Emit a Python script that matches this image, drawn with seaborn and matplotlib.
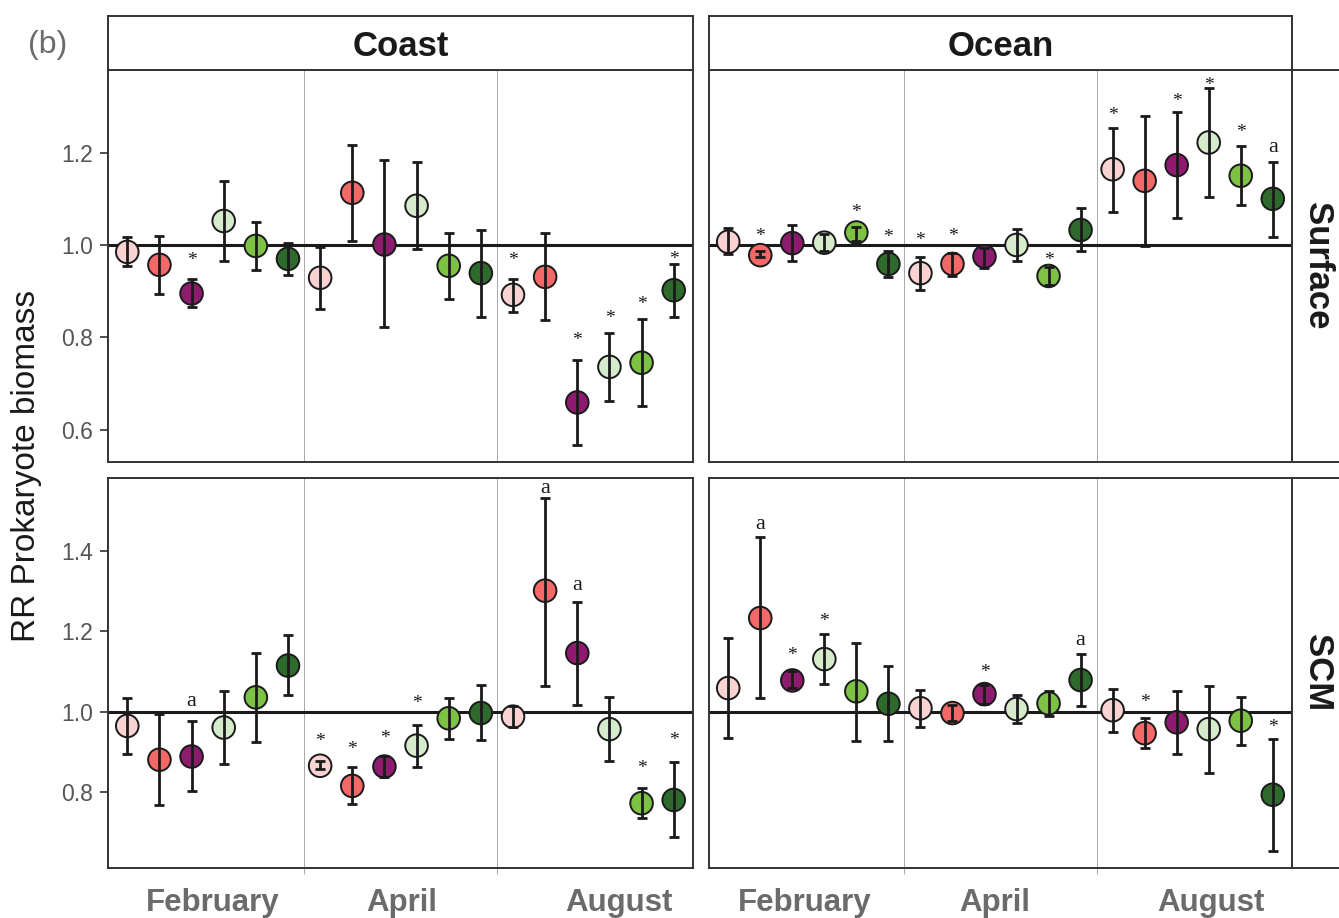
import numpy as np
import pandas as pd
import matplotlib
matplotlib.use("Agg")
import matplotlib.pyplot as plt
import seaborn as sns

# ---------------- data ----------------
months = ["February", "April", "August"]
treatments = ["T1", "T2", "T3", "T4", "T5", "T6"]
treatment_colors = ["#F9D2D2", "#F46868", "#8E1B6E", "#D6EACC", "#7DC243", "#2D6A2B"]
sites = ["Coast", "Ocean"]
depths = ["Surface", "SCM"]

coast_surface_mean = [0.985, 0.957, 0.895, 1.052, 0.998, 0.970,
                      0.929, 1.113, 1.001, 1.085, 0.955, 0.939,
                      0.892, 0.931, 0.659, 0.736, 0.745, 0.902]
coast_surface_lo = [0.954, 0.893, 0.866, 0.965, 0.945, 0.936,
                    0.861, 1.009, 0.822, 0.991, 0.884, 0.843,
                    0.854, 0.837, 0.567, 0.663, 0.651, 0.845]
coast_surface_hi = [1.017, 1.020, 0.926, 1.139, 1.050, 1.005,
                    0.995, 1.217, 1.183, 1.179, 1.027, 1.033,
                    0.926, 1.025, 0.751, 0.809, 0.840, 0.958]
coast_surface_sig = ["", "", "*", "", "", "",
                     "", "", "", "", "", "",
                     "*", "", "*", "*", "*", "*"]
coast_surface_sig_y = [np.nan, np.nan, 0.977, np.nan, np.nan, np.nan,
                       np.nan, np.nan, np.nan, np.nan, np.nan, np.nan,
                       0.977, np.nan, 0.803, 0.852, 0.882, 0.980]

ocean_surface_mean = [1.007, 0.978, 1.004, 1.005, 1.027, 0.959,
                      0.939, 0.959, 0.975, 1.000, 0.933, 1.0325,
                      1.164, 1.139, 1.173, 1.222, 1.150, 1.100]
ocean_surface_lo = [0.980, 0.975, 0.965, 0.987, 1.009, 0.931,
                    0.902, 0.933, 0.951, 0.965, 0.913, 0.986,
                    1.072, 0.998, 1.058, 1.103, 1.087, 1.018]
ocean_surface_hi = [1.036, 0.986, 1.043, 1.024, 1.040, 0.986,
                    0.973, 0.983, 0.993, 1.034, 0.952, 1.080,
                    1.254, 1.279, 1.289, 1.339, 1.2145, 1.180]
ocean_surface_sig = ["", "*", "", "", "*", "*",
                     "*", "*", "", "", "*", "",
                     "*", "", "*", "*", "*", "a"]
ocean_surface_sig_y = [np.nan, 1.028, np.nan, np.nan, 1.080, 1.027,
                       1.020, 1.030, np.nan, np.nan, 0.978, np.nan,
                       1.290, np.nan, 1.321, 1.357, 1.254, 1.217]

coast_scm_mean = [0.965, 0.881, 0.889, 0.961, 1.036, 1.115,
                  0.866, 0.816, 0.864, 0.916, 0.984, 0.997,
                  0.988, 1.301, 1.146, 0.957, 0.773, 0.781]
coast_scm_lo = [0.895, 0.769, 0.804, 0.871, 0.926, 1.042,
                0.858, 0.771, 0.838, 0.864, 0.933, 0.929,
                0.963, 1.063, 1.017, 0.877, 0.736, 0.688]
coast_scm_hi = [1.034, 0.994, 0.976, 1.052, 1.146, 1.190,
                0.877, 0.864, 0.891, 0.968, 1.034, 1.067,
                1.015, 1.531, 1.274, 1.038, 0.810, 0.875]
coast_scm_sig = ["", "", "a", "", "", "",
                 "*", "*", "*", "*", "", "",
                 "", "a", "a", "", "*", "*"]
coast_scm_sig_y = [np.nan, np.nan, 1.032, np.nan, np.nan, np.nan,
                   0.939, 0.918, 0.945, 1.032, np.nan, np.nan,
                   np.nan, 1.561, 1.321, np.nan, 0.871, 0.941]

ocean_scm_mean = [1.059, 1.233, 1.078, 1.131, 1.051, 1.020,
                  1.009, 0.997, 1.044, 1.007, 1.021, 1.079,
                  1.004, 0.947, 0.974, 0.957, 0.978, 0.794]
ocean_scm_lo = [0.934, 1.034, 1.058, 1.068, 0.928, 0.927,
                0.963, 0.976, 1.019, 0.972, 0.990, 1.015,
                0.949, 0.909, 0.895, 0.848, 0.918, 0.653]
ocean_scm_hi = [1.183, 1.434, 1.101, 1.194, 1.172, 1.114,
                1.055, 1.017, 1.067, 1.041, 1.052, 1.143,
                1.056, 0.984, 1.052, 1.065, 1.036, 0.933]
ocean_scm_sig = ["", "a", "*", "*", "", "",
                 "", "", "*", "", "", "a",
                 "", "*", "", "", "", "*"]
ocean_scm_sig_y = [np.nan, 1.473, 1.152, 1.237, np.nan, np.nan,
                   np.nan, np.nan, 1.110, np.nan, np.nan, 1.184,
                   np.nan, 1.036, np.nan, np.nan, np.nan, 0.974]

row_ylims = {"Surface": (0.530, 1.379), "SCM": (0.612, 1.581)}
row_yticks = {"Surface": [0.6, 0.8, 1.0, 1.2], "SCM": [0.8, 1.0, 1.2, 1.4]}

# ---------------- tidy table ----------------
panels = {
    ("Coast", "Surface"): (coast_surface_mean, coast_surface_lo, coast_surface_hi, coast_surface_sig, coast_surface_sig_y),
    ("Ocean", "Surface"): (ocean_surface_mean, ocean_surface_lo, ocean_surface_hi, ocean_surface_sig, ocean_surface_sig_y),
    ("Coast", "SCM"): (coast_scm_mean, coast_scm_lo, coast_scm_hi, coast_scm_sig, coast_scm_sig_y),
    ("Ocean", "SCM"): (ocean_scm_mean, ocean_scm_lo, ocean_scm_hi, ocean_scm_sig, ocean_scm_sig_y),
}
rows = []
for (site, depth), (m, lo, hi, sg, sy) in panels.items():
    for i in range(18):
        mi, ti = divmod(i, 6)
        rows.append(dict(site=site, depth=depth, month=months[mi], treatment=treatments[ti],
                         pos=i + 1, mean=m[i], lo=lo[i], hi=hi[i], sig=sg[i], sig_y=sy[i]))
df = pd.DataFrame(rows)

# ---------------- drawing ----------------
sns.set_theme(style="white")
plt.rcParams["font.family"] = ["Liberation Sans", "DejaVu Sans"]

W, H = 1339, 918
fig = plt.figure(figsize=(W / 100, H / 100), dpi=100)

def fx(px):
    return px / W

def fy(py):
    return 1 - py / H

col_x = {"Coast": (108, 693), "Ocean": (709, 1292)}
row_y = {"Surface": (70, 462), "SCM": (478, 868)}
month_label_x = {"Coast": [3.67, 9.55, 16.3], "Ocean": [3.4, 9.33, 16.07]}

palette = dict(zip(treatments, treatment_colors))
spine_col = "#333333"

for site in sites:
    for depth in depths:
        x0, x1 = col_x[site]
        y0, y1 = row_y[depth]
        ax = fig.add_axes([fx(x0), fy(y1), fx(x1 - x0), (y1 - y0) / H])
        sub = df[(df.site == site) & (df.depth == depth)]
        ax.set_xlim(0.4, 18.6)
        ax.set_ylim(*row_ylims[depth])
        for xs in (6.5, 12.5):
            ax.axvline(xs, color="#9a9a9a", lw=0.6, zorder=1)
        ax.axhline(1.0, color="#1a1a1a", lw=2.2, zorder=2)
        sns.scatterplot(data=sub, x="pos", y="mean", hue="treatment", palette=palette,
                        hue_order=treatments, s=265, edgecolor="#1a1a1a", linewidth=1.4,
                        legend=False, ax=ax, zorder=3)
        ax.errorbar(sub["pos"], sub["mean"],
                    yerr=[sub["mean"] - sub["lo"], sub["hi"] - sub["mean"]],
                    fmt="none", ecolor="#1a1a1a", elinewidth=2.0, capsize=3.5,
                    capthick=2.0, zorder=4)
        for _, r in sub[sub.sig != ""].iterrows():
            if r["sig"] == "*":
                off, fs = -3.5, 14
            else:
                off, fs = -2.0, 16
            ax.annotate(r["sig"], (r["pos"], r["sig_y"]), xytext=(0, off),
                        textcoords="offset points", ha="center", va="center",
                        fontsize=fs, family=["Liberation Serif", "DejaVu Serif"],
                        color="#1a1a1a", zorder=5)
        for sp in ax.spines.values():
            sp.set_color(spine_col)
            sp.set_linewidth(1.4)
        ax.set_xlabel("")
        ax.set_ylabel("")
        if depth == "SCM":
            ax.set_xticks([6.5, 12.5])
            ax.set_xticklabels([])
            ax.tick_params(axis="x", length=4, width=0.6, color="#9a9a9a", bottom=True)
            for mx, mname in zip(month_label_x[site], months):
                ax.text(mx, -0.09, mname, transform=ax.get_xaxis_transform(),
                        ha="center", va="center", fontsize=22.5, fontweight="bold",
                        color="#6b6b6b")
        else:
            ax.set_xticks([])
        if site == "Coast":
            ax.set_yticks(row_yticks[depth])
            ax.set_yticklabels([f"{v:.1f}" for v in row_yticks[depth]])
            ax.tick_params(axis="y", left=True, length=6, width=1.2, color="#333333",
                           labelsize=16.5, labelcolor="#555555", pad=5)
        else:
            ax.set_yticks([])

# top strips
for site in sites:
    x0, x1 = col_x[site]
    sax = fig.add_axes([fx(x0), fy(70), fx(x1 - x0), 54 / H])
    sax.set_xticks([]); sax.set_yticks([])
    sax.set_facecolor("white")
    for sp in sax.spines.values():
        sp.set_color(spine_col); sp.set_linewidth(1.4)
    sax.text(0.5, 0.44, site, ha="center", va="center", fontsize=25,
             fontweight="bold", color="#1a1a1a", transform=sax.transAxes)

# right strips
for depth in depths:
    y0, y1 = row_y[depth]
    sax = fig.add_axes([fx(1292), fy(y1), fx(80), (y1 - y0) / H])
    sax.set_xticks([]); sax.set_yticks([])
    sax.set_facecolor("white")
    for sp in sax.spines.values():
        sp.set_color(spine_col); sp.set_linewidth(1.4)
    sax.text(0.32, 0.5, depth, ha="center", va="center", fontsize=25, rotation=-90,
             fontweight="bold", color="#1a1a1a", transform=sax.transAxes)

fig.text(fx(27), fy(466), "RR Prokaryote biomass", rotation=90, ha="center", va="center",
         fontsize=24, color="#1a1a1a", family=["Liberation Sans Narrow", "Liberation Sans", "DejaVu Sans"])
fig.text(fx(48), fy(45), "(b)", ha="center", va="center", fontsize=23, color="#6b6b6b")

fig.savefig("out.png", dpi=100)
